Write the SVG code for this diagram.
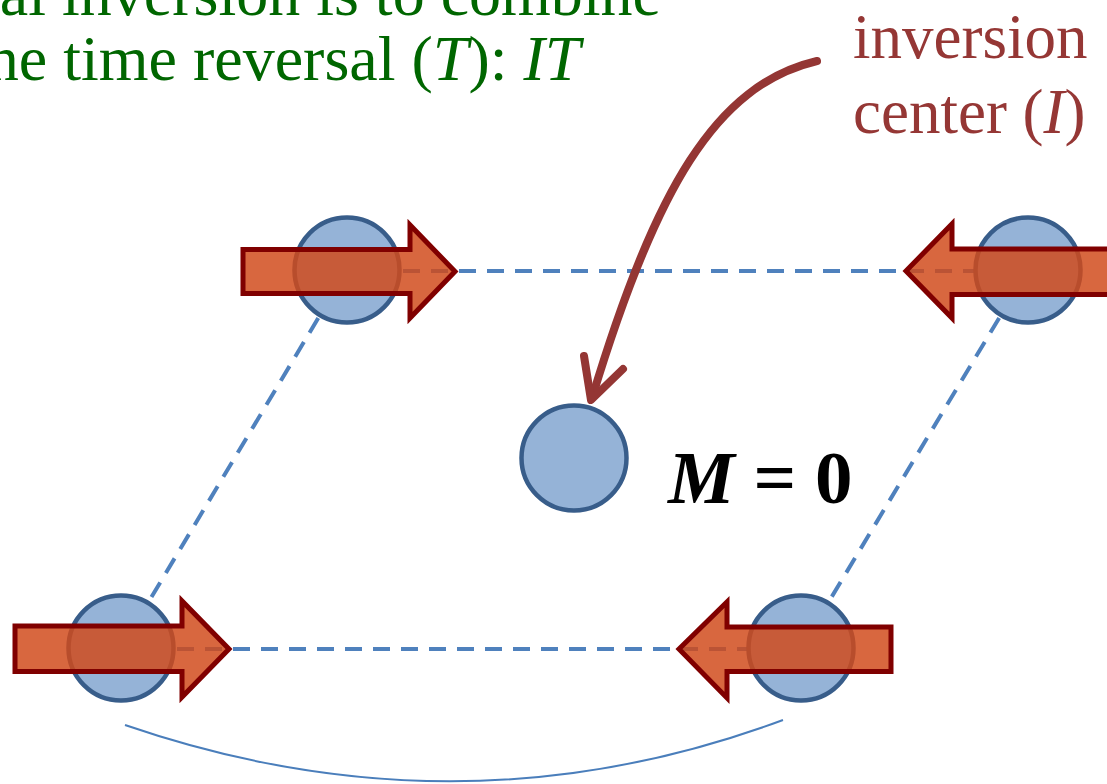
<svg xmlns="http://www.w3.org/2000/svg" width="1107" height="784" viewBox="0 0 1107 784">
<style>
.dash{stroke:#4F81BD;stroke-width:4;stroke-dasharray:17 11;fill:none}
.atom{fill:#95B3D7;stroke:#385D8A;stroke-width:4.5}
.spin{fill:#D04A1A;fill-opacity:0.84;stroke:#800000;stroke-width:5;stroke-linejoin:miter}
.green{font-family:"Liberation Serif","Times New Roman",serif;font-size:64px;fill:#006600}
.red{font-family:"Liberation Serif","Times New Roman",serif;font-size:63px;fill:#953735}
.ptr{stroke:#943634;stroke-width:8;fill:none;stroke-linecap:round;stroke-linejoin:round}
</style>
<rect width="1107" height="784" fill="#FFFFFF"/>
<g id="connectors">
<line class="dash" x1="347" y1="271" x2="1028" y2="271"/>
<line class="dash" x1="121" y1="649" x2="801" y2="649"/>
<line class="dash" x1="347" y1="270" x2="121" y2="648"/>
<line class="dash" x1="1028" y1="270" x2="801" y2="648"/>
<path d="M125,725 Q460,840 783,720" fill="none" stroke="#4A7EBB" stroke-width="2"/>
</g>
<g id="atom-tl"><circle class="atom" cx="347" cy="270" r="52.5"/></g>
<g id="atom-tr"><circle class="atom" cx="1028" cy="270" r="52.5"/></g>
<g id="atom-bl"><circle class="atom" cx="121" cy="648" r="52.5"/></g>
<g id="atom-br"><circle class="atom" cx="801" cy="648" r="52.5"/></g>
<g id="atom-center"><circle class="atom" cx="574" cy="458" r="52.5"/></g>
<g id="spin-tl"><polygon class="spin" points="243,249.5 410,249.5 410,225 455,271.5 410,318 410,293.5 243,293.5"/></g>
<g id="spin-tr"><polygon class="spin" points="906,271 952,224 952,249 1130,249 1130,294.5 952,294.5 952,318"/></g>
<g id="spin-bl"><polygon class="spin" points="15,626 182,626 182,601 229,649 182,697 182,671.5 15,671.5"/></g>
<g id="spin-br"><polygon class="spin" points="679,649 727,602 727,627 891,627 891,671.5 727,671.5 727,698"/></g>
<g id="pointer">
<path class="ptr" d="M817,61 C715,85 655,190 592,398"/>
<polyline class="ptr" points="584,356 591,400 623,369"/>
</g>
<g id="label-green">
<text class="green" x="661" y="15" text-anchor="end">spatial inversion is to combine</text>
<text class="green" x="-31" y="80">the time reversal (<tspan font-style="italic">T</tspan>): <tspan font-style="italic">IT</tspan></text>
</g>
<g id="label-red">
<text class="red" x="853" y="58">inversion</text>
<text class="red" x="853" y="133">center (<tspan font-style="italic">I</tspan>)</text>
</g>
<g id="label-m">
<text x="668" y="503" font-family="'Liberation Serif','Times New Roman',serif" font-size="75" font-weight="bold" fill="#000000"><tspan font-style="italic">M</tspan> = 0</text>
</g>
</svg>
